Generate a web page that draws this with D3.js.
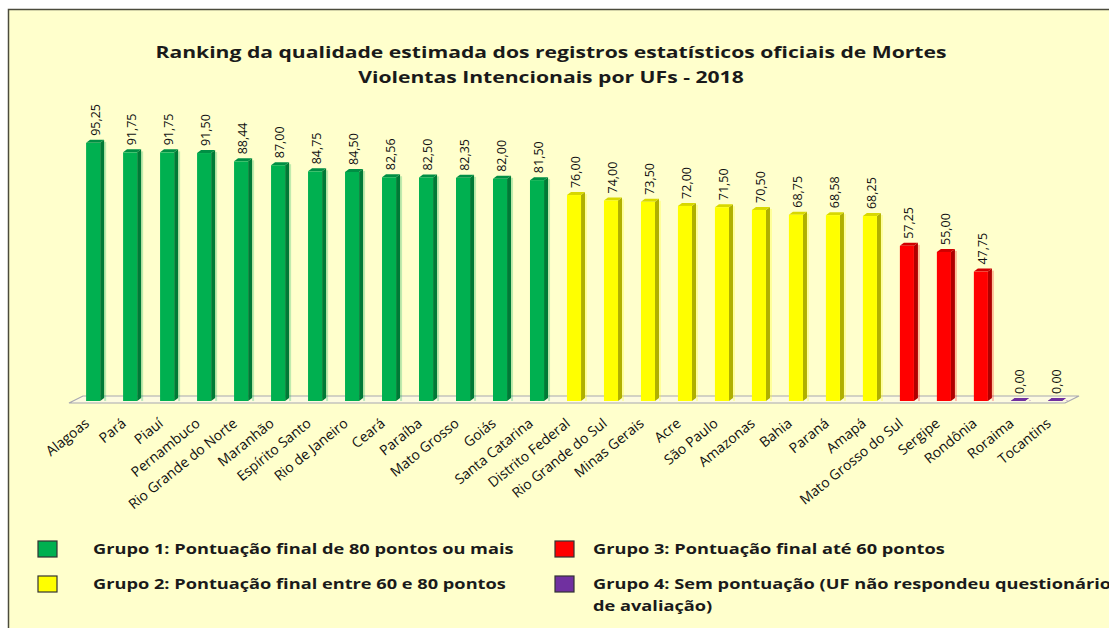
<!DOCTYPE html>
<html>
<head>
<meta charset="utf-8">
<script src="https://cdn.jsdelivr.net/npm/d3@7"></script>
<style>
  body { margin: 0; background: #fff; }
  svg { display: block; }
</style>
</head>
<body>
<div id="chart"></div>
<script>
// chart data
const states = ["Alagoas", "Pará", "Piauí", "Pernambuco", "Rio Grande do Norte", "Maranhão",
  "Espírito Santo", "Rio de Janeiro", "Ceará", "Paraíba", "Mato Grosso", "Goiás", "Santa Catarina",
  "Distrito Federal", "Rio Grande do Sul", "Minas Gerais", "Acre", "São Paulo", "Amazonas", "Bahia",
  "Paraná", "Amapá", "Mato Grosso do Sul", "Sergipe", "Rondônia", "Roraima", "Tocantins"];
const scores = [95.25, 91.75, 91.75, 91.50, 88.44, 87.00, 84.75, 84.50, 82.56, 82.50, 82.35, 82.00, 81.50,
  76.00, 74.00, 73.50, 72.00, 71.50, 70.50, 68.75, 68.58, 68.25, 57.25, 55.00, 47.75, 0.00, 0.00];
const groups = [1, 1, 1, 1, 1, 1, 1, 1, 1, 1, 1, 1, 1, 2, 2, 2, 2, 2, 2, 2, 2, 2, 3, 3, 3, 4, 4];
const groupNames = [
  "Grupo 1: Pontuação final de 80 pontos ou mais",
  "Grupo 2: Pontuação final entre 60 e 80 pontos",
  "Grupo 3: Pontuação final até 60 pontos",
  "Grupo 4: Sem pontuação (UF não respondeu questionário",
];
const titleLines = [
  "Ranking da qualidade estimada dos registros estatísticos oficiais de Mortes",
  "Violentas Intencionais por UFs - 2018",
];

const W = 1109, H = 628;
const front = { 1: "#00b050", 2: "#ffff00", 3: "#ff0000", 4: "#7030a0" };
const side = { 1: "#007a36", 2: "#b0b000", 3: "#b00000", 4: "#4a1f6b" };
const topc = { 1: "#008f44", 2: "#d8d800", 3: "#d00000", 4: "#5a2585" };
const font = "'Open Sans', sans-serif";

// the original picture is a bit wider than its fonts, stretch text to match
function stretch(sel, k) {
  sel.each(function () {
    const len = this.getComputedTextLength();
    d3.select(this)
      .attr("textLength", len * k)
      .attr("lengthAdjust", "spacingAndGlyphs");
  });
}

const svg = d3.select("#chart").append("svg")
  .attr("width", W)
  .attr("height", H);

// frame
svg.append("rect")
  .attr("x", 8.5).attr("y", 9.5)
  .attr("width", W).attr("height", H)
  .attr("fill", "#ffffcc")
  .attr("stroke", "#4b4b3c")
  .attr("stroke-width", 1.5);

const title = svg.append("g")
  .selectAll("text")
  .data(titleLines)
  .enter().append("text")
  .attr("text-anchor", "middle")
  .attr("x", 551)
  .attr("y", (d, i) => 58 + i * 25)
  .attr("font-family", font)
  .attr("font-weight", "bold")
  .attr("font-size", "16.5px")
  .attr("fill", "#1a1a1a")
  .text(d => d);
stretch(title, 1.28);

const x = d3.scaleBand()
  .domain(states)
  .range([75, 1073])
  .paddingInner(0.62)
  .paddingOuter(0.3);
const y = d3.scaleLinear()
  .domain([0, 100])
  .range([401, 130]);

const dx = 4, dy = 3;

// floor
const x0 = x.range()[0], x1 = x.range()[1];
svg.append("path")
  .attr("d", `M${x0 - 6},${y(0) + 2} L${x0 + 8},${y(0) - 5} L${x1 + 6},${y(0) - 5} L${x1 - 8},${y(0) + 2} Z`)
  .attr("fill", "#fdfbe0")
  .attr("stroke", "#a7a7b0")
  .attr("stroke-width", 1.2);

const bars = svg.append("g")
  .selectAll("g")
  .data(states)
  .enter().append("g");

// soft shadow
bars.append("rect")
  .attr("x", d => x(d) + x.bandwidth() + dx)
  .attr("y", (d, i) => y(scores[i]) - dy + 2)
  .attr("width", 2)
  .attr("height", (d, i) => y(0) - y(scores[i]) + dy - 2)
  .attr("fill", (d, i) => front[groups[i]])
  .attr("opacity", 0.25);

// side face
bars.append("path")
  .attr("d", (d, i) => {
    const xr = x(d) + x.bandwidth(), yt = y(scores[i]), yb = y(0);
    return `M${xr},${yt} L${xr + dx},${yt - dy} L${xr + dx},${yb - dy} L${xr},${yb} Z`;
  })
  .attr("fill", (d, i) => side[groups[i]]);

// top face
bars.append("path")
  .attr("d", (d, i) => {
    const xl = x(d), xr = x(d) + x.bandwidth(), yt = y(scores[i]);
    return `M${xl},${yt} L${xl + dx},${yt - dy} L${xr + dx},${yt - dy} L${xr},${yt} Z`;
  })
  .attr("fill", (d, i) => topc[groups[i]]);

// front face
bars.append("rect")
  .attr("x", d => x(d))
  .attr("y", (d, i) => y(scores[i]))
  .attr("width", x.bandwidth())
  .attr("height", (d, i) => Math.max(0, y(0) - y(scores[i])))
  .attr("fill", (d, i) => front[groups[i]]);

// flat marker for zero values
bars.filter((d, i) => scores[i] === 0)
  .append("path")
  .attr("d", d => {
    const xl = x(d), xr = x(d) + x.bandwidth(), yb = y(0);
    return `M${xl},${yb} L${xl + dx},${yb - dy} L${xr + dx},${yb - dy} L${xr},${yb} Z`;
  })
  .attr("fill", d => front[4]);

// value labels
const fmt = v => v.toFixed(2).replace(".", ",");
bars.append("text")
  .attr("transform", (d, i) => `translate(${x(d) + x.bandwidth() / 2 + 2},${y(scores[i]) - 7}) rotate(-90)`)
  .attr("dy", "0.35em")
  .attr("font-family", font)
  .attr("font-size", "12.5px")
  .attr("fill", "#111")
  .text((d, i) => fmt(scores[i]));

// category labels
bars.append("text")
  .attr("transform", d => `translate(${x(d) + x.bandwidth() / 2 - 3},${y(0) + 24}) rotate(-39)`)
  .attr("text-anchor", "end")
  .attr("font-family", font)
  .attr("font-size", "14px")
  .attr("fill", "#111")
  .text(d => d);

// legend
const legendPos = [
  { sx: 38, sy: 541, tx: 93 },
  { sx: 38, sy: 576, tx: 93 },
  { sx: 555, sy: 541, tx: 593 },
  { sx: 555, sy: 576, tx: 593 },
];
const legend = svg.append("g")
  .selectAll("g")
  .data(groupNames)
  .enter().append("g");

legend.append("rect")
  .attr("x", (d, i) => legendPos[i].sx)
  .attr("y", (d, i) => legendPos[i].sy)
  .attr("width", 19)
  .attr("height", 16)
  .attr("fill", (d, i) => front[i + 1])
  .attr("stroke", "#333")
  .attr("stroke-width", 1.2);

const legendText = legend.append("text")
  .attr("x", (d, i) => legendPos[i].tx)
  .attr("y", (d, i) => legendPos[i].sy + 13)
  .attr("font-family", font)
  .attr("font-weight", "bold")
  .attr("font-size", "14px")
  .attr("fill", "#1a1a1a")
  .text(d => d);

const extra = svg.append("text")
  .attr("x", 593)
  .attr("y", 611)
  .attr("font-family", font)
  .attr("font-weight", "bold")
  .attr("font-size", "14px")
  .attr("fill", "#1a1a1a")
  .text("de avaliação)");

stretch(legendText, 1.3);
stretch(extra, 1.3);
</script>
</body>
</html>
